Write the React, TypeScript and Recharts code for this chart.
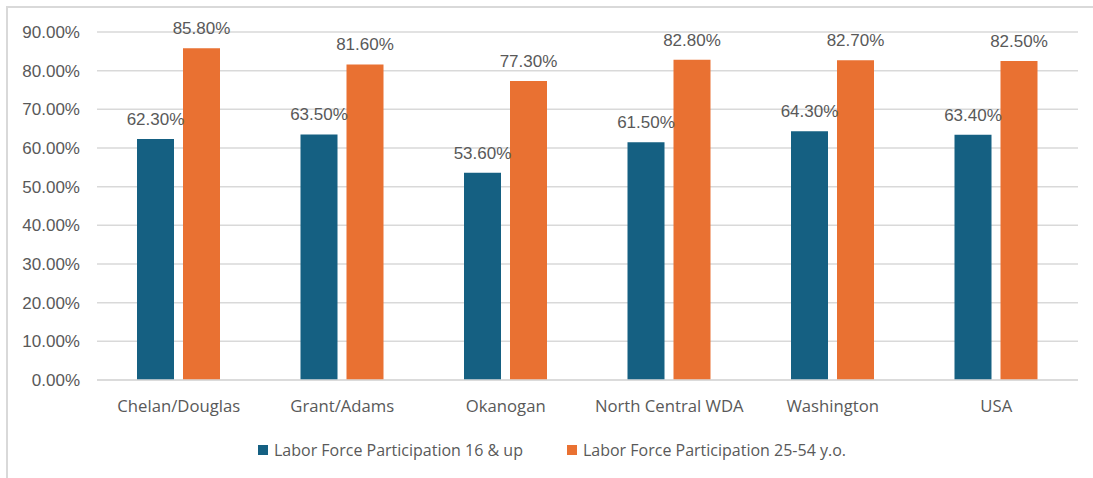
import React from 'react';
import { BarChart, Bar, XAxis, YAxis, CartesianGrid, Legend, LabelList } from 'recharts';

const regions = ['Chelan/Douglas', 'Grant/Adams', 'Okanogan', 'North Central WDA', 'Washington', 'USA'];
const lfp16Up = [62.3, 63.5, 53.6, 61.5, 64.3, 63.4];
const lfp25to54 = [85.8, 81.6, 77.3, 82.8, 82.7, 82.5];
const yTicks = [0, 10, 20, 30, 40, 50, 60, 70, 80, 90];

const SERIES = [
  { key: 'lfp16', name: 'Labor Force Participation 16 & up', color: '#156082' },
  { key: 'lfp25', name: 'Labor Force Participation 25-54 y.o.', color: '#E97132' },
];

const data = regions.map((name, i) => ({ name, lfp16: lfp16Up[i], lfp25: lfp25to54[i] }));

const TEXT = '#595959';
const NUM_FONT = '"Liberation Sans", Arial, sans-serif';
const LABEL_FONT = '"Open Sans", sans-serif';

const pct = (v: number) => `${Number(v).toFixed(2)}%`;

function LegendBox() {
  return (
    <div
      style={{
        display: 'flex', justifyContent: 'center', gap: 44, paddingLeft: 18,
        fontFamily: LABEL_FONT, fontSize: 16, color: TEXT,
      }}
    >
      {SERIES.map((s) => (
        <div key={s.key} style={{ display: 'flex', alignItems: 'center' }}>
          <span style={{ width: 10, height: 10, background: s.color, display: 'inline-block', marginRight: 6 }} />
          <span>{s.name}</span>
        </div>
      ))}
    </div>
  );
}

export default function App() {
  return (
    <div style={{ position: 'relative', width: 1093, height: 478, background: '#fff' }}>
      <style>{`body{margin:0;}`}</style>
      {/* only the top and left edges of the chart frame are in view */}
      <div
        style={{
          position: 'absolute', left: 6, top: 6, width: 1087, height: 472,
          borderTop: '2px solid #d9d9d9', borderLeft: '2px solid #d9d9d9', boxSizing: 'border-box',
        }}
      />
      <div style={{ position: 'absolute', left: 0, top: 0 }}>
        <BarChart
          width={1093}
          height={478}
          data={data}
          margin={{ top: 32, right: 15, left: 8, bottom: 14 }}
          barSize={37}
          barGap={9}
        >
          <CartesianGrid vertical={false} stroke="#d9d9d9" strokeWidth={1.5} />
          <XAxis
            dataKey="name"
            axisLine={{ stroke: '#d9d9d9', strokeWidth: 1.5 }}
            tickLine={false}
            tickMargin={14}
            height={62}
            tick={{ fill: TEXT, fontSize: 16.7, fontFamily: LABEL_FONT }}
          />
          <YAxis
            width={89}
            domain={[0, 90]}
            ticks={yTicks}
            tickFormatter={pct}
            axisLine={false}
            tickLine={false}
            tickMargin={11}
            interval={0}
            tick={{ fill: TEXT, fontSize: 17, fontFamily: NUM_FONT }}
          />
          <Legend verticalAlign="bottom" content={() => <LegendBox />} wrapperStyle={{ bottom: 17 }} />
          {SERIES.map((s) => (
            <Bar key={s.key} dataKey={s.key} name={s.name} fill={s.color} isAnimationActive={false}>
              <LabelList
                dataKey={s.key}
                position="top"
                offset={14}
                formatter={(v: any) => pct(v)}
                style={{ fill: TEXT, fontSize: 17, fontFamily: NUM_FONT }}
              />
            </Bar>
          ))}
        </BarChart>
      </div>
    </div>
  );
}
